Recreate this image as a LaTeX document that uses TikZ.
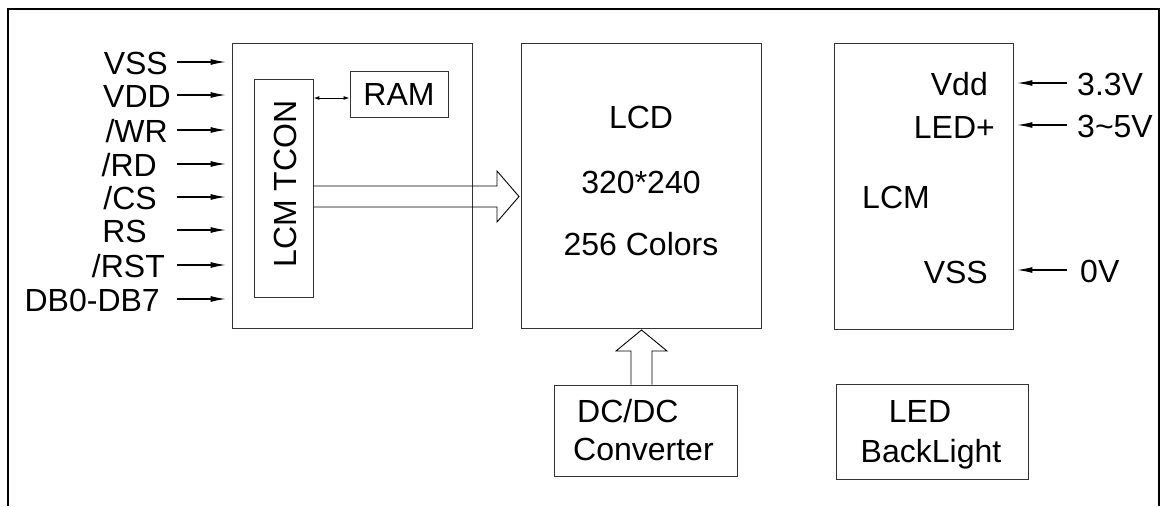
\documentclass[tikz,border=0pt]{standalone}
\usepackage{fontspec}
\setmainfont{Liberation Sans}
\usetikzlibrary{calc,arrows.meta}
\newcommand{\pinin}[4]{\node[lbl, anchor=base east] (#1) at (#4, #3 + 12) {#2};
    \draw[pin] (177, #3) -- ([xshift=-5pt]iface.west |- 0, #3);}
\newcommand{\supplyin}[4]{\node[lbl, anchor=base west] (#1) at (#4, #3 + 12) {#2};
    \draw[pin] (1067, #3) -- ([xshift=3pt]lcm.east |- 0, #3);}

\begin{document}
\begin{tikzpicture}[x=1pt, y=-1pt, font=\fontsize{32}{38}\selectfont,
    box/.style={draw=black!80, line width=0.9pt, inner sep=0pt},
    lbl/.style={inner sep=0pt},
    pin/.style={line width=1.6pt, -{Latex[length=16pt,width=6pt]}}]
    \useasboundingbox (0, 0) rectangle (1161, 506);
    \draw[line width=1.6pt] (8, 506) -- (8, 9) -- (1159, 9) -- (1159, 506);
    \node[box, minimum width=240, minimum height=285] (iface) at (352, 185.5) {};
    \node[box, minimum width=59, minimum height=218] (tcon) at (283.5, 188) {};
    \node[lbl, rotate=90] (tcontext) at (285, 184) {LCM TCON};
    \node[box, minimum width=98, minimum height=46] (ram) at (399, 94) {RAM};
    \draw[line width=1pt, {Latex[length=6pt,width=4pt]}-{Latex[length=6pt,width=4pt]}] (tcon.east |- 0, 98) -- (ram.west |- 0, 98);
    \pinin{vss}{VSS}{62}{168}
    \pinin{vdd}{VDD}{95}{171}
    \pinin{wr}{/WR}{130}{168}
    \pinin{rd}{/RD}{164}{157}
    \pinin{cs}{/CS}{197}{157}
    \pinin{rs}{RS}{230}{147}
    \pinin{rst}{/RST}{265}{165}
    \pinin{db}{DB0-DB7}{299}{160}
    \node[box, minimum width=240, minimum height=285] (lcd) at (641, 185.5) {};
    \node[lbl, anchor=base] (lcdname) at (641, 128) {LCD};
    \node[lbl, anchor=base] (lcdres) at (641, 193) {320*240};
    \node[lbl, anchor=base] (lcdcol) at (641, 255) {256 Colors};
    \draw[line width=0.9pt] (tcon.east |- 0, 186) -- (497, 186) -- (497, 171) -- (519, 196.5) -- (497, 222) -- (497, 207) -- (tcon.east |- 0, 207);
    \node[box, minimum width=179, minimum height=286] (lcm) at (923.5, 186) {};
    \node[lbl, anchor=base east] (lcmvdd) at (988, 95) {Vdd};
    \node[lbl, anchor=base east] (lcmled) at (995, 138) {LED+};
    \node[lbl, anchor=base west] (lcmname) at (862, 208) {LCM};
    \node[lbl, anchor=base east] (lcmvss) at (988, 283) {VSS};
    \supplyin{v33}{3.3V}{83}{1077}
    \supplyin{v35}{3\textasciitilde5V}{125}{1077}
    \supplyin{v0}{0V}{270}{1080}
    \node[box, minimum width=183, minimum height=91] (dcdc) at (645.5, 430.5) {};
    \node[lbl, anchor=base west] (dcdca) at (577, 422) {DC/DC};
    \node[lbl, anchor=base west] (dcdcb) at (573, 460) {Converter};
    \draw[line width=0.9pt] (dcdc.north -| 631, 0) -- (631, 351) -- (616, 351) -- (641.5, 330) -- (667, 351) -- (652, 351) -- (dcdc.north -| 652, 0);
    \node[box, minimum width=192, minimum height=95] (led) at (932, 431.5) {};
    \node[lbl, anchor=base] (leda) at (920, 422) {LED};
    \node[lbl, anchor=base] (ledb) at (931, 462) {BackLight};
\end{tikzpicture}
\end{document}
